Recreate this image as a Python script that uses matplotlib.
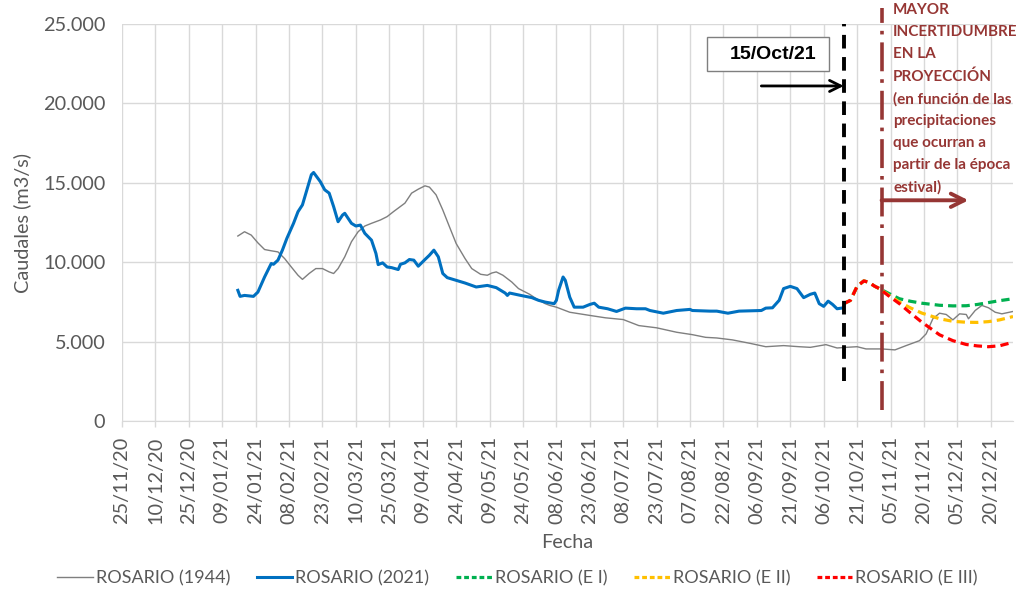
import matplotlib
matplotlib.use("Agg")
import matplotlib.pyplot as plt
import matplotlib.dates as mdates
from matplotlib.lines import Line2D
from matplotlib.patches import Rectangle
import pandas as pd

plt.rcParams['font.family'] = ['Lato', 'DejaVu Sans']

# ---------------- data ----------------
dates_1944 = [
    '2021-01-16', '2021-01-19', '2021-01-22', '2021-01-25', '2021-01-28', '2021-01-31',
    '2021-02-03', '2021-02-06', '2021-02-09', '2021-02-12', '2021-02-14', '2021-02-17', '2021-02-20', '2021-02-23', '2021-02-26', '2021-02-28',
    '2021-03-02', '2021-03-05', '2021-03-08', '2021-03-11', '2021-03-14', '2021-03-17', '2021-03-21', '2021-03-24', '2021-03-27',
    '2021-04-01', '2021-04-04', '2021-04-07', '2021-04-10', '2021-04-12', '2021-04-15', '2021-04-18', '2021-04-21', '2021-04-24', '2021-04-28',
    '2021-05-01', '2021-05-05', '2021-05-08', '2021-05-10', '2021-05-12', '2021-05-15', '2021-05-19', '2021-05-22', '2021-05-27', '2021-05-30',
    '2021-06-03', '2021-06-05', '2021-06-08', '2021-06-14', '2021-06-23', '2021-06-30',
    '2021-07-08', '2021-07-15', '2021-07-23',
    '2021-08-01', '2021-08-08', '2021-08-14', '2021-08-19', '2021-08-26',
    '2021-09-03', '2021-09-10', '2021-09-18', '2021-09-25', '2021-09-30',
    '2021-10-07', '2021-10-12', '2021-10-16', '2021-10-21', '2021-10-25',
    '2021-11-01', '2021-11-07', '2021-11-12', '2021-11-18', '2021-11-21', '2021-11-24', '2021-11-27', '2021-11-30',
    '2021-12-03', '2021-12-06', '2021-12-09', '2021-12-10', '2021-12-13', '2021-12-16', '2021-12-19', '2021-12-22', '2021-12-25', '2021-12-30',
]
q_1944 = [
    11650, 11920, 11710, 11220, 10800, 10720,
    10650, 10230, 9700, 9180, 8920, 9290, 9600, 9600, 9390, 9290,
    9600, 10340, 11290, 11920, 12280, 12450, 12660, 12870, 13200,
    13720, 14350, 14600, 14810, 14730, 14240, 13290, 12230, 11180, 10230,
    9600, 9240, 9180, 9320, 9390, 9180, 8750, 8340, 7980, 7700,
    7390, 7280, 7170, 6850, 6650, 6500,
    6390, 6010, 5870,
    5590, 5440, 5270, 5230, 5110,
    4890, 4680, 4750, 4680, 4640,
    4810, 4600, 4640, 4680, 4540,
    4540, 4480, 4750, 5060, 5490, 6440, 6790, 6710,
    6370, 6750, 6710, 6440, 6960, 7280, 7130, 6850, 6750, 6900,
]

dates_2021 = [
    '2021-01-16', '2021-01-17', '2021-01-19', '2021-01-23', '2021-01-25', '2021-01-28', '2021-01-31',
    '2021-02-01', '2021-02-03', '2021-02-05', '2021-02-07', '2021-02-10', '2021-02-12', '2021-02-14', '2021-02-16', '2021-02-18', '2021-02-19', '2021-02-22', '2021-02-24', '2021-02-26', '2021-02-28',
    '2021-03-02', '2021-03-04', '2021-03-05', '2021-03-08', '2021-03-10', '2021-03-12', '2021-03-14', '2021-03-17', '2021-03-19', '2021-03-20', '2021-03-22', '2021-03-24', '2021-03-26', '2021-03-29', '2021-03-30',
    '2021-04-01', '2021-04-03', '2021-04-05', '2021-04-07', '2021-04-10', '2021-04-12', '2021-04-14', '2021-04-16', '2021-04-18', '2021-04-20', '2021-04-24', '2021-04-28',
    '2021-05-03', '2021-05-08', '2021-05-12', '2021-05-16', '2021-05-17', '2021-05-18', '2021-05-23', '2021-05-28', '2021-05-31',
    '2021-06-03', '2021-06-07', '2021-06-08', '2021-06-09', '2021-06-11', '2021-06-12', '2021-06-14', '2021-06-16', '2021-06-20', '2021-06-23', '2021-06-25', '2021-06-27',
    '2021-07-01', '2021-07-05', '2021-07-09', '2021-07-14', '2021-07-18', '2021-07-20', '2021-07-26',
    '2021-08-01', '2021-08-07', '2021-08-08', '2021-08-16', '2021-08-19', '2021-08-24', '2021-08-29',
    '2021-09-08', '2021-09-10', '2021-09-13', '2021-09-16', '2021-09-18', '2021-09-21', '2021-09-24', '2021-09-27', '2021-09-30',
    '2021-10-02', '2021-10-04', '2021-10-06', '2021-10-08', '2021-10-10', '2021-10-12', '2021-10-14',
]
q_2021 = [
    8230, 7850, 7910, 7850, 8120, 9070, 9920,
    9870, 10130, 10760, 11500, 12450, 13180, 13610, 14560, 15510, 15650, 15080, 14560, 14350, 13500,
    12550, 12970, 13080, 12450, 12280, 12340, 11820, 11390, 10550, 9850, 9960, 9700, 9660, 9540, 9870,
    9960, 10170, 10130, 9750, 10170, 10440, 10760, 10340, 9290, 9030, 8860, 8690,
    8440, 8540, 8400, 8060, 7910, 8060, 7910, 7770, 7600,
    7490, 7390, 7600, 8230, 9070, 8860, 7800, 7170, 7170, 7340, 7420, 7170,
    7070, 6900, 7110, 7070, 7070, 6960, 6790,
    6960, 7030, 6960, 6920, 6920, 6790, 6920,
    6960, 7110, 7130, 7600, 8340, 8480, 8340, 7770, 7980,
    8060, 7390, 7220, 7550, 7340, 7070, 7110,
]

dates_proj = [
    '2021-10-15', '2021-10-18', '2021-10-21', '2021-10-24', '2021-10-26', '2021-10-29', '2021-10-31',
    '2021-11-04', '2021-11-09', '2021-11-14', '2021-11-19', '2021-11-27',
    '2021-12-03', '2021-12-09', '2021-12-14', '2021-12-19', '2021-12-24', '2021-12-30',
]
q_e1 = [7390, 7600, 8480, 8820, 8750, 8480, 8340,
        8050, 7700, 7540, 7420, 7290, 7250, 7260, 7340, 7460, 7580, 7700]
q_e2 = [7390, 7600, 8480, 8820, 8750, 8480, 8340,
        7950, 7490, 7120, 6800, 6440, 6280, 6220, 6210, 6260, 6370, 6580]
q_e3 = [7390, 7600, 8480, 8820, 8750, 8480, 8340,
        7900, 7390, 6800, 6230, 5430, 5060, 4820, 4730, 4680, 4740, 4960]

tick_dates = ['2020-11-25', '2020-12-10', '2020-12-25', '2021-01-09', '2021-01-24', '2021-02-08',
              '2021-02-23', '2021-03-10', '2021-03-25', '2021-04-09', '2021-04-24', '2021-05-09',
              '2021-05-24', '2021-06-08', '2021-06-23', '2021-07-08', '2021-07-23', '2021-08-07',
              '2021-08-22', '2021-09-06', '2021-09-21', '2021-10-06', '2021-10-21', '2021-11-05',
              '2021-11-20', '2021-12-05', '2021-12-20']
y_ticks = [0, 5000, 10000, 15000, 20000, 25000]
y_labels = ['0', '5.000', '10.000', '15.000', '20.000', '25.000']

series_names = ['ROSARIO (1944)', 'ROSARIO (2021)', 'ROSARIO (E I)', 'ROSARIO (E II)', 'ROSARIO (E III)']

cut_date = '2021-10-15'
change_date = '2021-11-01'

# ---------------- figure ----------------
txt_gray = '#595959'
grid_c = '#D9D9D9'
brown = '#963634'

fig = plt.figure(figsize=(10.21, 5.93), dpi=100)
ax = fig.add_axes([0.1195, 0.2900, 0.8727, 0.6695])

d = lambda lst: pd.to_datetime(lst)

ax.plot(d(dates_1944), q_1944, color='#7F7F7F', lw=1.0, zorder=3)
ax.plot(d(dates_2021), q_2021, color='#0070C0', lw=2.2, zorder=4, solid_joinstyle='round')
ax.plot(d(dates_proj), q_e1, color='#00B050', lw=2.3, dashes=(2.6, 1.6), zorder=5)
ax.plot(d(dates_proj), q_e2, color='#FFC000', lw=2.3, dashes=(2.6, 1.6), zorder=6)
ax.plot(d(dates_proj), q_e3, color='#FF0000', lw=2.3, dashes=(2.6, 1.6), zorder=7)

# vertical reference lines
cut = pd.Timestamp(cut_date)
chg = pd.Timestamp(change_date)
ax.plot([cut, cut], [2500, 25000], color='black', lw=2.8, dashes=(3.5, 2.2), zorder=8, clip_on=False)
ax.plot([chg, chg], [700, 26000], color=brown, lw=2.6, dashes=(8, 2.2, 1, 2.2), zorder=4.5, clip_on=False)

# arrows
ax.annotate('', xy=(cut, 21100), xytext=(pd.Timestamp('2021-09-08'), 21100),
            arrowprops=dict(arrowstyle='->', color='black', lw=2, mutation_scale=20,
                            shrinkA=0, shrinkB=0), zorder=9)
ax.annotate('', xy=(pd.Timestamp('2021-12-10'), 13900), xytext=(chg, 13900),
            arrowprops=dict(arrowstyle='->', color=brown, lw=2.8, mutation_scale=24,
                            shrinkA=0, shrinkB=0), zorder=9)

# date box
ax.add_patch(Rectangle((0.6566, 0.8816), 0.1369, 0.0856, transform=ax.transAxes,
                       facecolor='white', edgecolor='#7F7F7F', lw=1.0, zorder=9))
ax.text(0.7312, 0.9244, '15/Oct/21', transform=ax.transAxes, ha='center', va='center',
        fontsize=14, fontweight='bold', family=['Liberation Sans', 'DejaVu Sans'], zorder=10)

# annotation text
fig.text(893 / 1021, 1 - 3 / 593,
         'MAYOR\nINCERTIDUMBRE\nEN LA\nPROYECCIÓN\n(en función de las\nprecipitaciones\nque ocurran a\npartir de la época\nestival)',
         ha='left', va='top', color=brown, fontsize=11.0, fontweight='bold', linespacing=1.72)

# axes styling
ax.set_xlim(pd.Timestamp('2020-11-25'), pd.Timestamp('2021-12-30'))
ax.set_ylim(0, 25000)
ax.set_xticks(d(tick_dates))
ax.xaxis.set_major_formatter(mdates.DateFormatter('%d/%m/%y'))
ax.set_yticks(y_ticks)
ax.set_yticklabels(y_labels)
ax.grid(True, color=grid_c, lw=1.0, zorder=0)
ax.set_axisbelow(True)
for s in ['top', 'right', 'left']:
    ax.spines[s].set_visible(False)
ax.spines['bottom'].set_color(grid_c)
ax.tick_params(axis='x', rotation=90, labelsize=14.3, colors=txt_gray, color=grid_c,
               length=4, width=1, pad=7)
ax.tick_params(axis='y', labelsize=14.3, colors=txt_gray, length=0, pad=12)

ax.set_xlabel('Fecha', fontsize=14.3, color=txt_gray)
ax.xaxis.set_label_coords(0.5, -0.307)
ax.xaxis.label.set_verticalalignment('center')
ax.set_ylabel('Caudales (m3/s)', fontsize=14.3, color=txt_gray)
ax.yaxis.set_label_coords(-0.112, 0.5)
ax.yaxis.label.set_verticalalignment('center')

# legend
handles = [
    Line2D([], [], color='#7F7F7F', lw=1.0),
    Line2D([], [], color='#0070C0', lw=2.2),
    Line2D([], [], color='#00B050', lw=2.3, dashes=(1.5, 0.9)),
    Line2D([], [], color='#FFC000', lw=2.3, dashes=(1.5, 0.9)),
    Line2D([], [], color='#FF0000', lw=2.3, dashes=(1.5, 0.9)),
]
leg = fig.legend(handles, series_names, loc='center', bbox_to_anchor=(0.507, 1 - 578 / 593),
                 ncol=5, frameon=False, fontsize=13, handlelength=1.95, handletextpad=0.17,
                 columnspacing=1.5)
for t in leg.get_texts():
    t.set_color(txt_gray)

fig.savefig('out.png', dpi=100)
